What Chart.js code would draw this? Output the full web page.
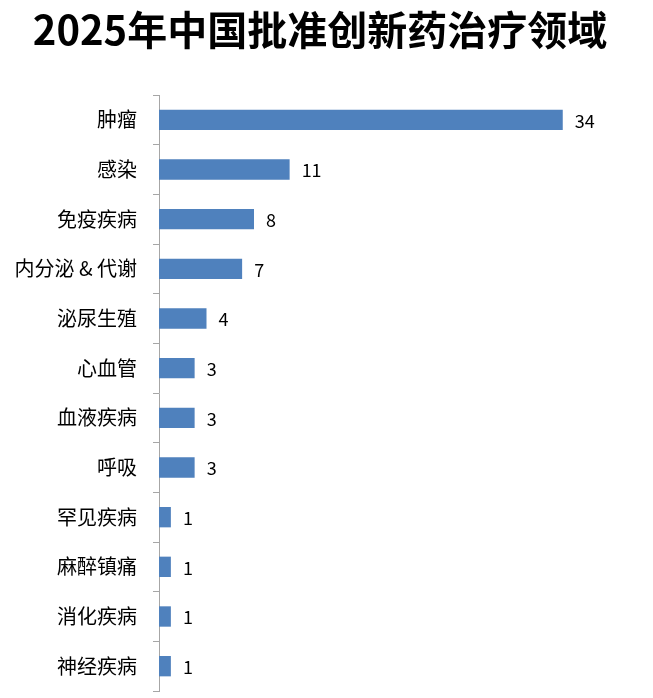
<!DOCTYPE html>
<html>
<head>
<meta charset="utf-8">
<script src="https://cdn.jsdelivr.net/npm/chart.js@4/dist/chart.umd.min.js"></script>
<style>
  html, body { margin: 0; padding: 0; background: #ffffff; }
  canvas { display: block; }
</style>
</head>
<body>
<canvas id="grafico" width="653" height="698"></canvas>
<script>
// dados do gráfico
const titulo = '2025年中国批准创新药治疗领域';
const categorias = ['肿瘤', '感染', '免疫疾病', '内分泌 & 代谢', '泌尿生殖', '心血管', '血液疾病', '呼吸', '罕见疾病', '麻醉镇痛', '消化疾病', '神经疾病'];
const valores = [34, 11, 8, 7, 4, 3, 3, 3, 1, 1, 1, 1];

const fonteCJK = '"Noto Sans CJK SC", "Noto Sans", sans-serif';

// título desenhado à mão para posicionar igual à referência
const pluginTitulo = {
    id: 'pluginTitulo',
    afterDraw(chart) {
        const ctx = chart.ctx;
        ctx.save();
        ctx.font = 'bold 40px ' + fonteCJK;
        ctx.fillStyle = '#000000';
        ctx.textAlign = 'center';
        ctx.textBaseline = 'middle';
        ctx.fillText(titulo, 320, 30);
        ctx.restore();
    }
};

// rótulos de valor depois de cada barra
const pluginValores = {
    id: 'pluginValores',
    afterDatasetsDraw(chart) {
        const ctx = chart.ctx;
        const meta = chart.getDatasetMeta(0);
        ctx.save();
        ctx.font = '18px ' + fonteCJK;
        ctx.fillStyle = '#000000';
        ctx.textAlign = 'left';
        ctx.textBaseline = 'middle';
        meta.data.forEach((barra, i) => {
            ctx.fillText(String(valores[i]), barra.x + 12, barra.y + 1);
        });
        ctx.restore();
    }
};

const contexto = document.getElementById('grafico').getContext('2d');
const meuGrafico = new Chart(contexto, {
    type: 'bar',
    data: {
        labels: categorias,
        datasets: [{
            data: valores,
            backgroundColor: '#4F81BD',
            borderWidth: 0,
            barPercentage: 0.41,
            categoryPercentage: 1
        }]
    },
    options: {
        indexAxis: 'y',
        responsive: false,
        animation: false,
        layout: {
            padding: { top: 95, bottom: 7, left: 0, right: 19 }
        },
        plugins: {
            legend: { display: false },
            tooltip: { enabled: false }
        },
        scales: {
            x: {
                display: false,
                min: 0,
                max: 40
            },
            y: {
                afterFit(escala) {
                    escala.width = 159;
                    escala.paddingTop = 0;
                    escala.paddingBottom = 0;
                },
                border: { display: true, color: '#A6A6A6', width: 1 },
                grid: {
                    drawOnChartArea: false,
                    drawTicks: true,
                    tickLength: 6,
                    color: '#A6A6A6'
                },
                ticks: {
                    padding: 16,
                    color: '#000000',
                    font: { size: 20, family: fonteCJK }
                }
            }
        }
    },
    plugins: [pluginTitulo, pluginValores]
});
</script>
</body>
</html>
